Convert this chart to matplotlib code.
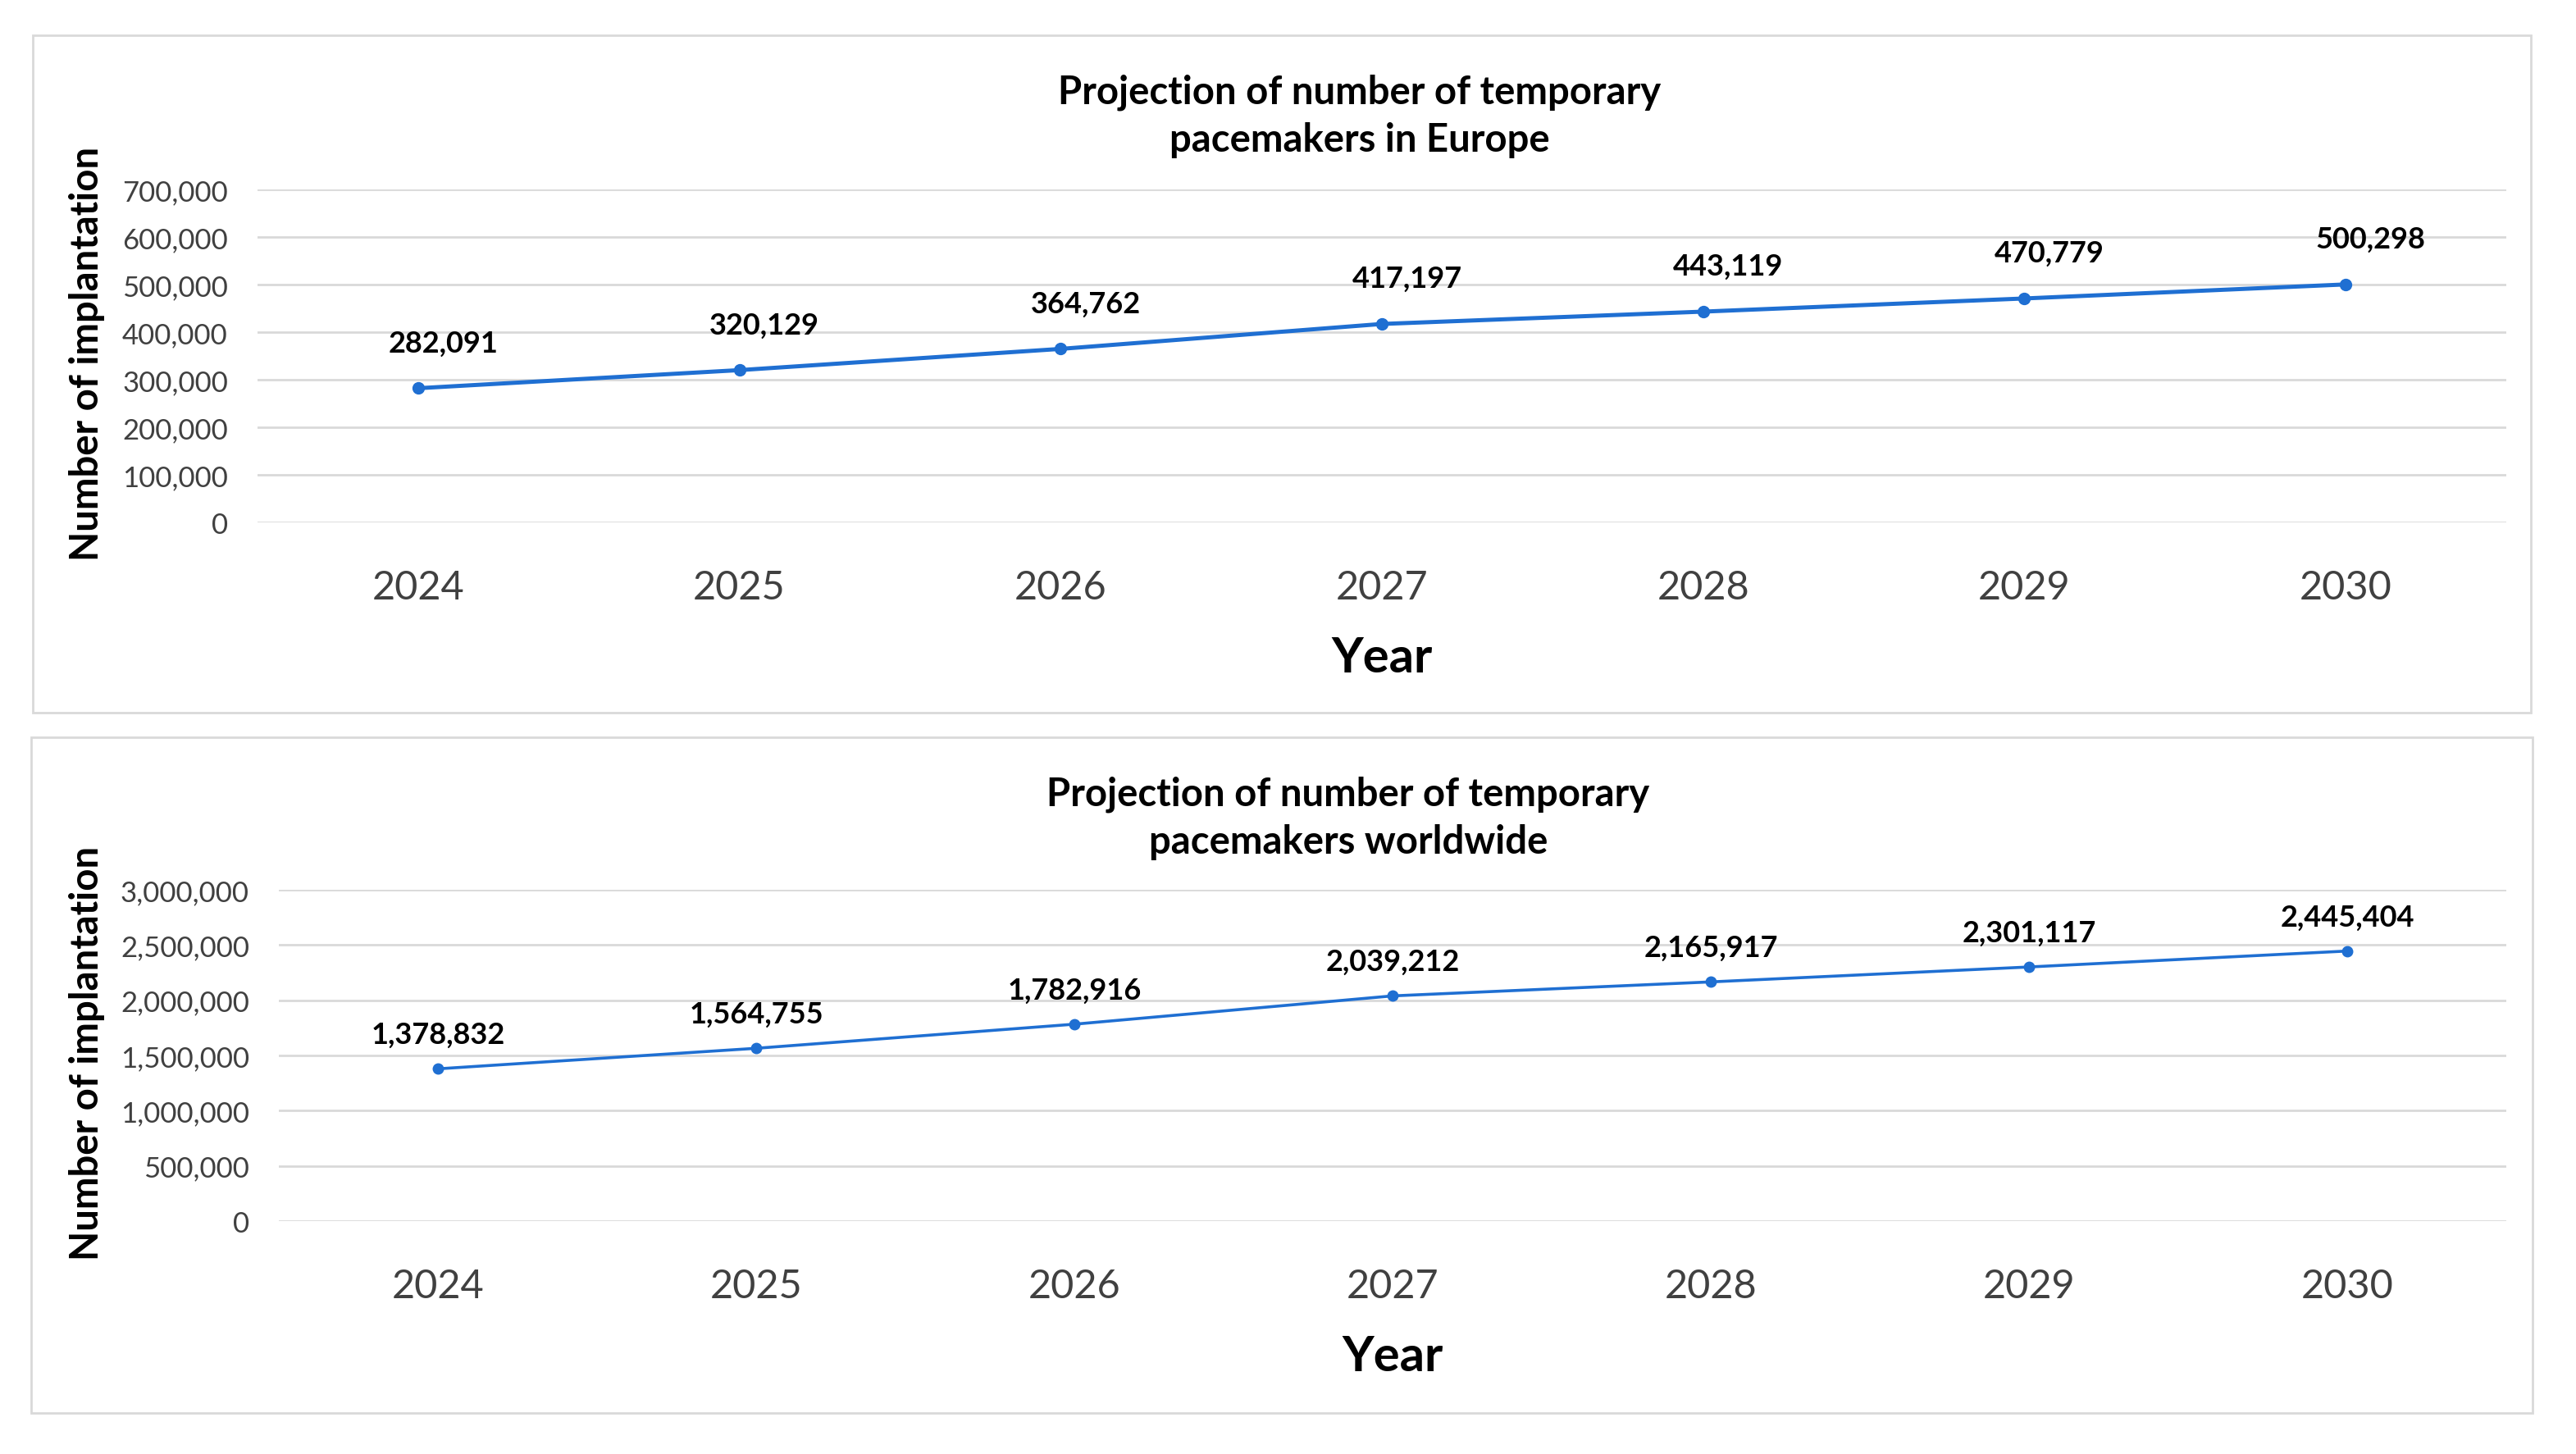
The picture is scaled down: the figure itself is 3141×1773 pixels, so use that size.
import matplotlib
matplotlib.use("Agg")
import matplotlib.pyplot as plt
from matplotlib.patches import Rectangle
from matplotlib.ticker import FuncFormatter, MultipleLocator

plt.rcParams['font.family'] = ['Lato', 'DejaVu Sans']

# --- data ---
years = ["2024", "2025", "2026", "2027", "2028", "2029", "2030"]
europe = [282091, 320129, 364762, 417197, 443119, 470779, 500298]
worldwide = [1378832, 1564755, 1782916, 2039212, 2165917, 2301117, 2445404]

title_europe = "Projection of number of temporary\npacemakers in Europe"
title_world = "Projection of number of temporary\npacemakers worldwide"

line_color = "#1f6fd2"
grid_color = "#d9d9d9"
tick_color = "#404040"

W, H = 3141, 1774
fig = plt.figure(figsize=(W / 100, H / 100), dpi=100)


def px(x0, y0, x1, y1):
    # pixel box (top-left origin) -> figure fraction rect
    return [x0 / W, 1 - y1 / H, (x1 - x0) / W, (y1 - y0) / H]


def panel(rect, box, vals, ymax, ystep, title, title_xy, lw, ms, lab_off):
    # light frame around each chart
    bx0, by0, bx1, by1 = box
    fig.add_artist(Rectangle((bx0 / W, 1 - by1 / H), (bx1 - bx0) / W, (by1 - by0) / H,
                             transform=fig.transFigure, fill=False,
                             edgecolor=grid_color, linewidth=2))
    ax = fig.add_axes(px(*rect))
    x = list(range(len(years)))
    ax.plot(x, vals, color=line_color, lw=lw, marker="o", ms=ms,
            clip_on=False, zorder=3)
    for xi, v in zip(x, vals):
        ax.annotate(f"{v:,}", (xi, v), xytext=lab_off, textcoords="offset points",
                    ha="center", va="center", fontsize=26, fontweight="bold",
                    color="black")
    ax.set_xlim(-0.5, len(years) - 0.5)
    ax.set_ylim(0, ymax)
    ax.yaxis.set_major_locator(MultipleLocator(ystep))
    ax.yaxis.set_major_formatter(FuncFormatter(lambda v, p: f"{int(v):,}"))
    ax.set_xticks(x)
    ax.set_xticklabels(years)
    ax.tick_params(axis="x", length=0, pad=41, labelsize=35, labelcolor=tick_color)
    ax.tick_params(axis="y", length=0, pad=26, labelsize=25, labelcolor=tick_color)
    ax.grid(axis="y", color=grid_color, lw=2)
    ax.set_axisbelow(True)
    for s in ax.spines.values():
        s.set_visible(False)
    ax.set_xlabel("Year", fontsize=43, fontweight="bold", color="black")
    ax.set_ylabel("Number of implantation", fontsize=34, fontweight="bold", color="black")
    fig.text(title_xy[0] / W, 1 - title_xy[1] / H, title, ha="center", va="center",
             fontsize=34, fontweight="bold", linespacing=1.4)
    return ax


ax1 = panel((314, 232, 3056, 638), (40, 44, 3086, 870), europe, 700000, 100000,
            title_europe, (1658, 142), 3.6, 10, (22, 40))
ax1.xaxis.set_label_coords(0.5, -0.34)
ax1.yaxis.set_label_coords(-0.068, 0.51)

ax2 = panel((340, 1086, 3056, 1490), (38, 900, 3088, 1724), worldwide, 3000000, 500000,
            title_world, (1644, 998), 2.6, 9, (0, 30))
ax2.xaxis.set_label_coords(0.5, -0.341)
ax2.yaxis.set_label_coords(-0.078, 0.51)

fig.savefig("out.png", dpi=100, facecolor="white")
